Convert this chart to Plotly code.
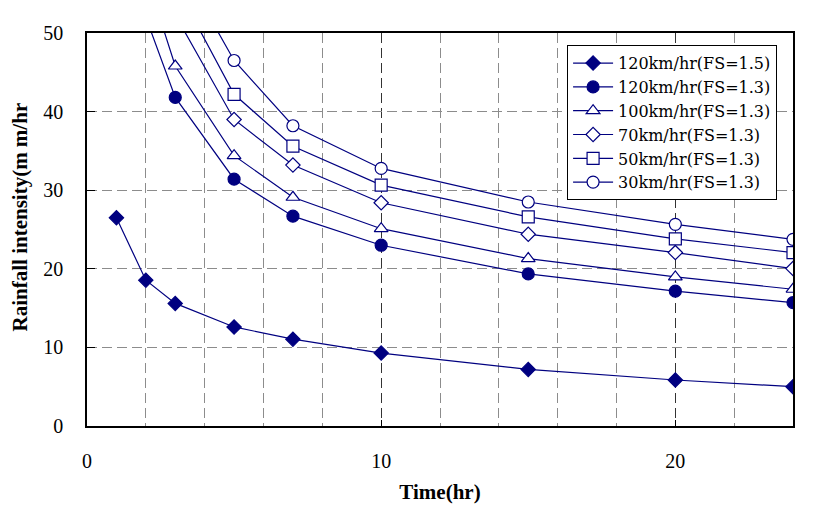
import plotly.graph_objects as go

# Data
time_a = [1, 2, 3, 5, 7, 10, 15, 20, 24]
s120_15 = [26.5, 18.55, 15.6, 12.6, 11.05, 9.28, 7.2, 5.85, 5.0]

time_b = [2, 3, 5, 7, 10, 15, 20, 24]
s120_13 = [52.0, 41.8, 31.4, 26.7, 23.0, 19.35, 17.15, 15.7]
s100_13 = [57.5, 45.8, 34.4, 29.1, 25.1, 21.3, 18.97, 17.4]

time_c = [3, 5, 7, 10, 15, 20, 24]
s70_13 = [52.3, 39.0, 33.2, 28.4, 24.4, 22.06, 20.03]
s50_13 = [56.2, 42.2, 35.6, 30.65, 26.6, 23.8, 22.06]
s30_13 = [59.8, 46.5, 38.2, 32.77, 28.5, 25.66, 23.75]

names = ["120km/hr(FS=1.5)", "120km/hr(FS=1.3)", "100km/hr(FS=1.3)",
         "70km/hr(FS=1.3)", "50km/hr(FS=1.3)", "30km/hr(FS=1.3)"]

NAVY = "#000080"
FONT = "Liberation Serif, Times New Roman, serif"
LEGFONT = "DejaVu Serif, serif"

# (x, y, symbol, size, fill)
series = [
    (time_a, s120_15, "diamond", 11, NAVY),
    (time_b, s120_13, "circle", 12, NAVY),
    (time_b, s100_13, "triangle-up", 12, "white"),
    (time_c, s70_13, "diamond", 11, "white"),
    (time_c, s50_13, "square", 12, "white"),
    (time_c, s30_13, "circle", 12, "white"),
]

fig = go.Figure()
for (xs, ys, sym, sz, fill), nm in zip(series, names):
    fig.add_trace(go.Scatter(
        x=xs, y=ys, name=nm, mode="lines+markers",
        line=dict(color=NAVY, width=1.2),
        marker=dict(symbol=sym, size=sz, color=fill,
                    line=dict(color=NAVY, width=1.2)),
        cliponaxis=True,
    ))

fig.update_layout(
    width=816, height=514,
    margin=dict(l=79, r=31, t=25, b=96),
    paper_bgcolor="white", plot_bgcolor="white",
    font=dict(family=FONT, size=20, color="black"),
    showlegend=True,
    legend=dict(x=0.68, y=0.969, xanchor="left", yanchor="top",
                bgcolor="white", bordercolor="black", borderwidth=1,
                font=dict(family=LEGFONT, size=16), tracegroupgap=0,
                itemwidth=40),
    xaxis=dict(range=[0, 24], dtick=10, tick0=0, showline=True, linecolor="black",
               linewidth=1.5, mirror=True, ticks="inside", ticklen=6, tickcolor="black",
               showgrid=True, gridcolor="#333", griddash="10px,5px", gridwidth=1,
               zeroline=False, ticklabelstandoff=16,
               minor=dict(dtick=2, showgrid=True, gridcolor="#8c8c8c", griddash="10px,5px",
                          gridwidth=1, ticks=""),
               title=dict(text="<b>Time(hr)</b>", font=dict(family=FONT, size=21), standoff=14)),
    yaxis=dict(range=[0, 50], dtick=10, showline=True, linecolor="black", linewidth=1.5,
               mirror=True, ticks="inside", ticklen=8, tickcolor="black",
               showgrid=True, gridcolor="#8c8c8c", griddash="10px,5px", gridwidth=1,
               zeroline=False, ticklabelstandoff=18),
    annotations=[dict(text="<b>Rainfall intensity(m m/hr</b>", textangle=-90,
                      xref="paper", yref="paper", x=-0.095, y=0.533,
                      xanchor="center", yanchor="middle", showarrow=False,
                      font=dict(family=FONT, size=21))],
)

fig.write_html("out.html")
